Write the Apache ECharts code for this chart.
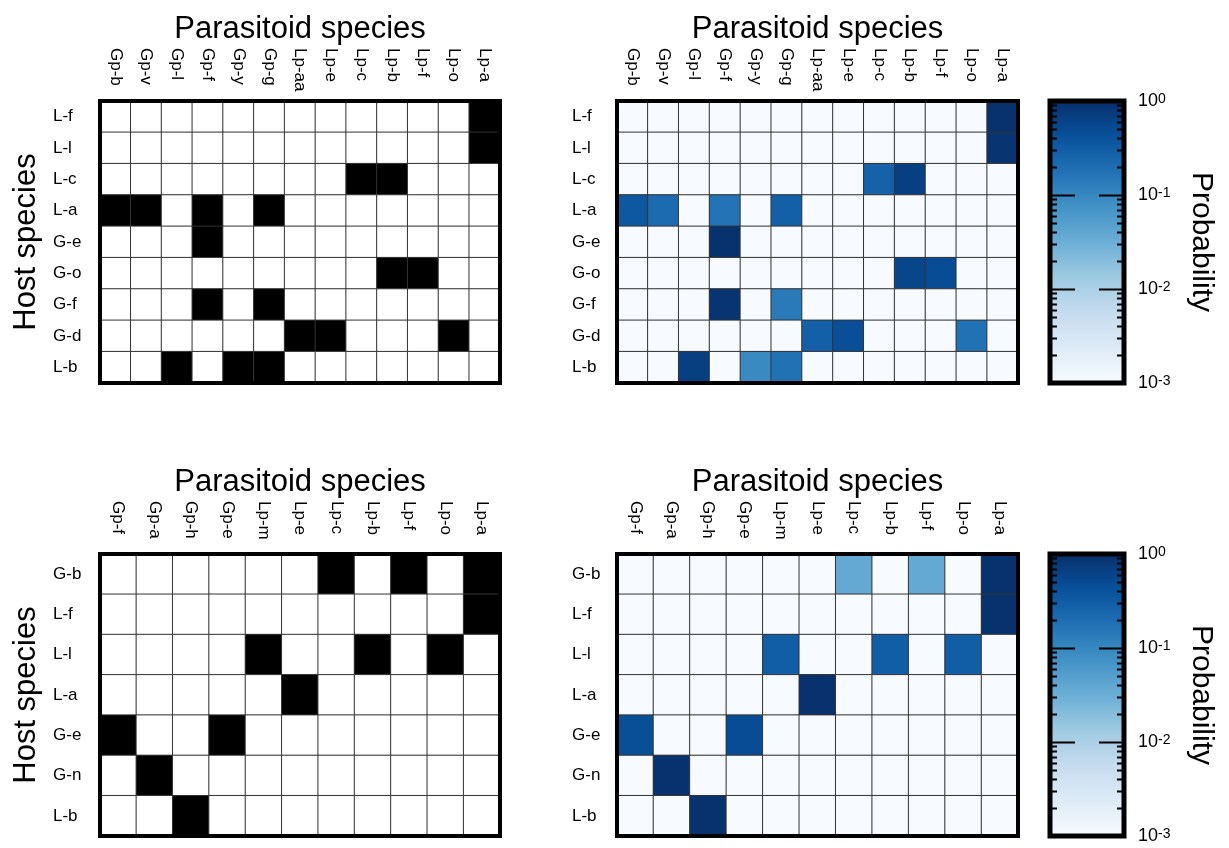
<!DOCTYPE html>
<html>
<head>
<meta charset="utf-8">
<script src="https://cdn.jsdelivr.net/npm/echarts@6/dist/echarts.min.js"></script>
<style>
  html, body { margin: 0; padding: 0; background: #fff; }
  #chart { width: 1229px; height: 848px; }
</style>
</head>
<body>
<div id="chart"></div>
<script>
// ---- Network 1 ----
const parasitoidsA = ['Gp-b', 'Gp-v', 'Gp-l', 'Gp-f', 'Gp-y', 'Gp-g', 'Lp-aa', 'Lp-e', 'Lp-c', 'Lp-b', 'Lp-f', 'Lp-o', 'Lp-a'];
const hostsA = ['L-f', 'L-l', 'L-c', 'L-a', 'G-e', 'G-o', 'G-f', 'G-d', 'L-b'];
// observed links (1 = interaction recorded), one row per host
const observedA = [
  [0, 0, 0, 0, 0, 0, 0, 0, 0, 0, 0, 0, 1],
  [0, 0, 0, 0, 0, 0, 0, 0, 0, 0, 0, 0, 1],
  [0, 0, 0, 0, 0, 0, 0, 0, 1, 1, 0, 0, 0],
  [1, 1, 0, 1, 0, 1, 0, 0, 0, 0, 0, 0, 0],
  [0, 0, 0, 1, 0, 0, 0, 0, 0, 0, 0, 0, 0],
  [0, 0, 0, 0, 0, 0, 0, 0, 0, 1, 1, 0, 0],
  [0, 0, 0, 1, 0, 1, 0, 0, 0, 0, 0, 0, 0],
  [0, 0, 0, 0, 0, 0, 1, 1, 0, 0, 0, 1, 0],
  [0, 0, 1, 0, 1, 1, 0, 0, 0, 0, 0, 0, 0]
];
// interaction probabilities, one row per host (0 = below 10^-3)
const probabilityA = [
  [0, 0, 0, 0, 0, 0, 0, 0, 0, 0, 0, 0, 0.95],
  [0, 0, 0, 0, 0, 0, 0, 0, 0, 0, 0, 0, 0.9],
  [0, 0, 0, 0, 0, 0, 0, 0, 0.27, 0.67, 0, 0, 0],
  [0.35, 0.21, 0, 0.17, 0, 0.28, 0, 0, 0, 0, 0, 0, 0],
  [0, 0, 0, 0.95, 0, 0, 0, 0, 0, 0, 0, 0, 0],
  [0, 0, 0, 0, 0, 0, 0, 0, 0, 0.56, 0.48, 0, 0],
  [0, 0, 0, 0.9, 0, 0.14, 0, 0, 0, 0, 0, 0, 0],
  [0, 0, 0, 0, 0, 0, 0.28, 0.45, 0, 0, 0, 0.18, 0],
  [0, 0, 0.68, 0, 0.093, 0.18, 0, 0, 0, 0, 0, 0, 0]
];

// ---- Network 2 ----
const parasitoidsB = ['Gp-f', 'Gp-a', 'Gp-h', 'Gp-e', 'Lp-m', 'Lp-e', 'Lp-c', 'Lp-b', 'Lp-f', 'Lp-o', 'Lp-a'];
const hostsB = ['G-b', 'L-f', 'L-l', 'L-a', 'G-e', 'G-n', 'L-b'];
const observedB = [
  [0, 0, 0, 0, 0, 0, 1, 0, 1, 0, 1],
  [0, 0, 0, 0, 0, 0, 0, 0, 0, 0, 1],
  [0, 0, 0, 0, 1, 0, 0, 1, 0, 1, 0],
  [0, 0, 0, 0, 0, 1, 0, 0, 0, 0, 0],
  [1, 0, 0, 1, 0, 0, 0, 0, 0, 0, 0],
  [0, 1, 0, 0, 0, 0, 0, 0, 0, 0, 0],
  [0, 0, 1, 0, 0, 0, 0, 0, 0, 0, 0]
];
const probabilityB = [
  [0, 0, 0, 0, 0, 0, 0.037, 0, 0.037, 0, 0.95],
  [0, 0, 0, 0, 0, 0, 0, 0, 0, 0, 0.95],
  [0, 0, 0, 0, 0.3, 0, 0, 0.3, 0, 0.3, 0],
  [0, 0, 0, 0, 0, 0.97, 0, 0, 0, 0, 0],
  [0.45, 0, 0, 0.48, 0, 0, 0, 0, 0, 0, 0],
  [0, 0.95, 0, 0, 0, 0, 0, 0, 0, 0, 0],
  [0, 0, 0.95, 0, 0, 0, 0, 0, 0, 0, 0]
];

// colour scale (log10 probability from -3 to 0)
const blues = ['#f7fbff', '#deebf7', '#c6dbef', '#9ecae1', '#6baed6', '#4292c6', '#2171b5', '#08519c', '#08306b'];
const probMin = 0.001, probMax = 1;

// colour-bar ticks: long ones at inner decades, short ones at 2..9 within each decade
const majorTicks = [0.01, 0.1];
const minorTicks = [];
for (let d = -3; d < 0; d++) {
  for (let m = 2; m <= 9; m++) minorTicks.push(m * Math.pow(10, d));
}
const barTicks = majorTicks.map(v => [0.5, v, 25]).concat(minorTicks.map(v => [0.5, v, 7]));

const FONT = 'Liberation Sans, Arial, Helvetica, sans-serif';

function binaryCells(matrix) {
  const out = [];
  matrix.forEach((row, r) => row.forEach((v, c) => out.push([c, r, v])));
  return out;
}
function probCells(matrix) {
  const out = [];
  matrix.forEach((row, r) => row.forEach((v, c) => {
    const p = Math.max(v, probMin);
    out.push([c, r, v, Math.log10(p)]);
  }));
  return out;
}

const grids = [
  { left: 100, top: 101, width: 400, height: 282 },
  { left: 617, top: 101, width: 401, height: 282 },
  { left: 100, top: 554, width: 400, height: 282 },
  { left: 617, top: 554, width: 401, height: 282 },
  { left: 1050, top: 101, width: 74, height: 282 },
  { left: 1050, top: 554, width: 74, height: 282 }
].map((g, i) => Object.assign(g, {
  show: true, z: 10, backgroundColor: 'transparent',
  borderColor: '#000', borderWidth: i < 4 ? 4 : 5,
  containLabel: false, outerBoundsMode: 'none'
}));

function catX(gridIndex, data) {
  return {
    type: 'category', gridIndex, data, position: 'top',
    axisLine: { show: false }, axisTick: { show: false }, splitLine: { show: false },
    axisLabel: {
      interval: 0, rotate: 90, align: 'left', verticalAlign: 'middle',
      margin: 53, fontSize: 17, color: '#000', fontFamily: FONT
    },
    name: 'Parasitoid species', nameLocation: 'middle', nameGap: 56, nameMoveOverlap: false,
    nameTextStyle: { fontSize: 31, color: '#000', fontFamily: FONT }
  };
}
function catY(gridIndex, data, withName, margin) {
  return {
    type: 'category', gridIndex, data, inverse: true,
    axisLine: { show: false }, axisTick: { show: false }, splitLine: { show: false },
    axisLabel: { interval: 0, align: 'left', margin, fontSize: 17, color: '#000', fontFamily: FONT },
    name: withName ? 'Host species' : '', nameLocation: 'middle', nameRotate: 90, nameGap: 58,
    nameMoveOverlap: false,
    nameTextStyle: { fontSize: 31, color: '#000', fontFamily: FONT }
  };
}
function logY(gridIndex) {
  return {
    type: 'log', logBase: 10, gridIndex, position: 'right', min: probMin, max: probMax,
    axisLine: { show: false }, splitLine: { show: false }, axisTick: { show: false },
    axisLabel: {
      margin: 14,
      formatter: v => '{b|10}{s|' + Math.round(Math.log10(v)) + '}',
      rich: {
        b: { fontSize: 18, color: '#000', fontFamily: FONT, verticalAlign: 'bottom', lineHeight: 18 },
        s: { fontSize: 14, color: '#000', fontFamily: FONT, verticalAlign: 'top', lineHeight: 14, padding: [0, 0, 12, 0] }
      }
    },
    name: 'Probability', nameLocation: 'middle', nameRotate: -90, nameGap: 62, nameMoveOverlap: false,
    nameTextStyle: { fontSize: 30, color: '#000', fontFamily: FONT }
  };
}

const cellStyle = { borderColor: '#333333', borderWidth: 1 };

function heat(xi, data) {
  return {
    type: 'heatmap', xAxisIndex: xi, yAxisIndex: xi, data,
    itemStyle: cellStyle, emphasis: { disabled: true }, silent: true
  };
}
function colourBar(i) {
  return {
    type: 'custom', xAxisIndex: i, yAxisIndex: i, silent: true, z: 2,
    data: [[0, probMax]],
    renderItem: (params, api) => {
      const a = api.coord([0, probMax]);
      const b = api.coord([1, probMin]);
      return {
        type: 'rect',
        shape: { x: a[0], y: a[1], width: b[0] - a[0], height: b[1] - a[1] },
        style: {
          fill: new echarts.graphic.LinearGradient(0, 1, 0, 0,
            blues.map((c, k) => ({ offset: k / (blues.length - 1), color: c })))
        }
      };
    }
  };
}
function tickSeries(i) {
  return {
    type: 'custom', xAxisIndex: i, yAxisIndex: i, silent: true, z: 4,
    data: barTicks,
    renderItem: (params, api) => {
      const y = Math.round(api.coord([0, api.value(1)])[1]) + 0.5;
      const len = api.value(2);
      const cs = params.coordSys;
      const st = { stroke: '#000', lineWidth: 2 };
      return {
        type: 'group', children: [
          { type: 'line', shape: { x1: cs.x, y1: y, x2: cs.x + len, y2: y }, style: st },
          { type: 'line', shape: { x1: cs.x + cs.width - len, y1: y, x2: cs.x + cs.width, y2: y }, style: st }
        ]
      };
    }
  };
}

const option = {
  animation: false,
  backgroundColor: '#fff',
  textStyle: { fontFamily: FONT },
  grid: grids,
  xAxis: [
    catX(0, parasitoidsA), catX(1, parasitoidsA), catX(2, parasitoidsB), catX(3, parasitoidsB),
    { type: 'value', gridIndex: 4, min: 0, max: 1, show: false },
    { type: 'value', gridIndex: 5, min: 0, max: 1, show: false }
  ],
  yAxis: [
    catY(0, hostsA, true, 47), catY(1, hostsA, false, 45),
    catY(2, hostsB, true, 47), catY(3, hostsB, false, 45),
    logY(4), logY(5)
  ],
  visualMap: [
    {
      type: 'piecewise', show: false, seriesIndex: [0, 2], dimension: 2,
      pieces: [{ min: 0.5, color: '#000000' }, { max: 0.5, color: '#ffffff' }]
    },
    {
      type: 'continuous', show: false, seriesIndex: [1, 3], dimension: 3,
      min: -3, max: 0, inRange: { color: blues }
    }
  ],
  series: [
    heat(0, binaryCells(observedA)),
    heat(1, probCells(probabilityA)),
    heat(2, binaryCells(observedB)),
    heat(3, probCells(probabilityB)),
    colourBar(4), tickSeries(4),
    colourBar(5), tickSeries(5)
  ]
};

const chart = echarts.init(document.getElementById('chart'), null, { renderer: 'canvas' });
chart.setOption(option);
</script>
</body>
</html>
